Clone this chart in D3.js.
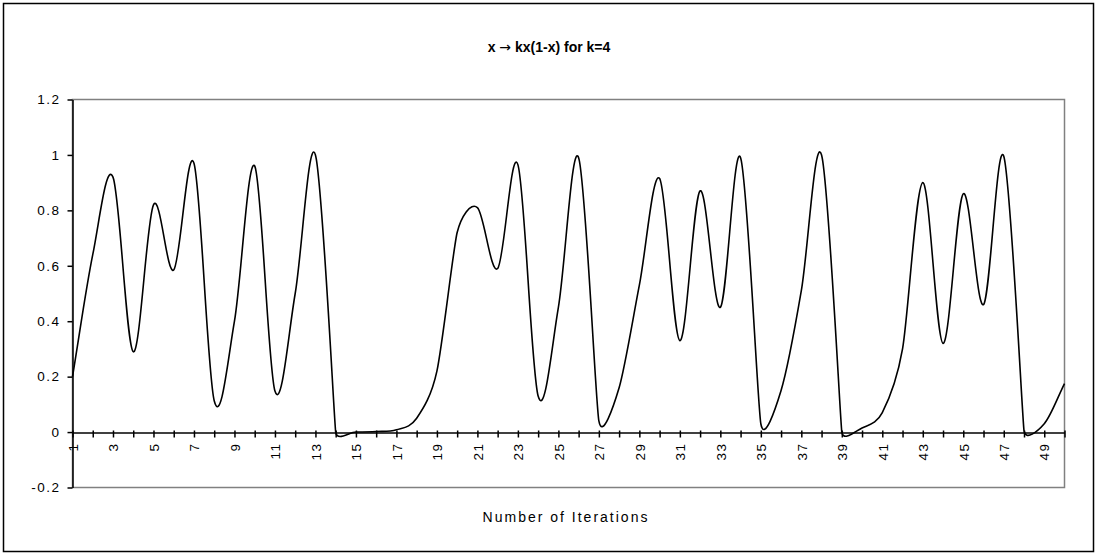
<!DOCTYPE html>
<html>
<head>
<meta charset="utf-8">
<script src="https://cdn.jsdelivr.net/npm/d3@7/dist/d3.min.js"></script>
<style>
  html, body { margin: 0; padding: 0; background: #fff; }
  svg { display: block; }
  text { font-family: "Liberation Sans", Arial, sans-serif; fill: #000; }
</style>
</head>
<body>
<svg id="chart" width="1097" height="555"></svg>
<script>
// ---- data ----
const titleParts = ["x ", "\u2192", " kx(1-x) for k=4"];
const xAxisTitle = "Number of Iterations";
const iterations = d3.range(1, 51);
const values = [
  0.20, 0.64, 0.92, 0.29, 0.82, 0.585, 0.97, 0.113, 0.40, 0.96,
  0.148, 0.50, 1.00, 0.00, 0.00, 0.002, 0.008, 0.05, 0.22, 0.72,
  0.81, 0.59, 0.965, 0.13, 0.45, 0.99, 0.04, 0.16, 0.53, 0.915,
  0.33, 0.87, 0.45, 0.99, 0.03, 0.15, 0.51, 1.00, 0.00, 0.015,
  0.07, 0.30, 0.90, 0.32, 0.86, 0.46, 0.995, 0.005, 0.03, 0.175
];
const yTicks = [-0.2, 0, 0.2, 0.4, 0.6, 0.8, 1, 1.2];
const xLabelEvery = 2;

// ---- layout ----
const svg = d3.select("#chart");
const W = 1097, H = 555;
const plot = { left: 72.5, right: 1064.5, top: 99.5, bottom: 487.5 };

svg.append("rect").attr("x", 0).attr("y", 0).attr("width", W).attr("height", H).attr("fill", "#fff");
svg.append("rect").attr("x", 3.5).attr("y", 3.5).attr("width", W - 7).attr("height", H - 7)
  .attr("fill", "none").attr("stroke", "#000").attr("stroke-width", 1.5);

const x = d3.scalePoint().domain(iterations).range([plot.left, plot.right]);
const y = d3.scaleLinear().domain([-0.2, 1.2]).range([plot.bottom, plot.top]);

// plot area border (grey)
svg.append("rect")
  .attr("x", plot.left).attr("y", plot.top)
  .attr("width", plot.right - plot.left).attr("height", plot.bottom - plot.top)
  .attr("fill", "#fff").attr("stroke", "#808080").attr("stroke-width", 1.5);

// title
const title = svg.append("text").attr("x", 549).attr("y", 52).attr("text-anchor", "middle")
  .attr("font-size", 14).attr("font-weight", "bold");
title.selectAll("tspan").data(titleParts).join("tspan")
  .style("font-family", (d, i) => i === 1 ? "'DejaVu Sans', sans-serif" : "'Liberation Sans', Arial, sans-serif")
  .attr("font-weight", (d, i) => i === 1 ? "normal" : "bold")
  .text(d => d);

// y axis
const yAxis = d3.axisLeft(y).tickValues(yTicks).tickSize(5).tickSizeOuter(0).tickPadding(7)
  .tickFormat(d => String(+d.toFixed(1)));
const gy = svg.append("g").attr("transform", `translate(${plot.left},0)`).call(yAxis);
gy.select(".domain").attr("stroke", "#000").attr("stroke-width", 1.5);
gy.selectAll(".tick line").attr("stroke", "#000").attr("stroke-width", 1.5);
gy.selectAll(".tick text").attr("font-size", 13.5).attr("letter-spacing", "1.5px")
  .style("font-family", "'Liberation Sans', Arial, sans-serif");

// x axis at y = 0
const xAxis = d3.axisBottom(x).tickSize(5).tickSizeOuter(0)
  .tickFormat(d => ((d - 1) % xLabelEvery === 0 ? String(d) : ""));
const gx = svg.append("g").attr("transform", `translate(0,${Math.round(y(0)) + 0.5})`).call(xAxis);
gx.select(".domain").attr("stroke", "#000").attr("stroke-width", 1.5);
gx.selectAll(".tick line").attr("y1", -2).attr("y2", 5).attr("stroke", "#000").attr("stroke-width", 1.5);
gx.selectAll(".tick text")
  .attr("transform", "rotate(-90)")
  .attr("x", -10).attr("y", 0).attr("dy", "0.35em")
  .attr("text-anchor", "end")
  .attr("font-size", 13.5).attr("letter-spacing", "1.5px")
  .style("font-family", "'Liberation Sans', Arial, sans-serif");

// x axis title
svg.append("text").attr("x", 566).attr("y", 522).attr("text-anchor", "middle")
  .attr("font-size", 14).attr("letter-spacing", "2px").text(xAxisTitle);

// Excel-like smoothed curve (Bezier with clamped Catmull-Rom tangents)
function ExcelSmooth(context) { this._context = context; }
ExcelSmooth.prototype = {
  areaStart() { this._line = 0; },
  areaEnd() { this._line = NaN; },
  lineStart() { this._pts = []; },
  point(px, py) { this._pts.push([+px, +py]); },
  lineEnd() {
    const p = this._pts, n = p.length, ctx = this._context;
    if (!n) return;
    const dist = (a, b) => Math.hypot(b[0] - a[0], b[1] - a[1]);
    const ctrl = p.map((c, i) => {
      const a = p[Math.max(i - 1, 0)], b = p[Math.min(i + 1, n - 1)];
      const tx = b[0] - a[0], ty = b[1] - a[1];
      const L = Math.hypot(tx, ty);
      if (L === 0) return [0, 0];
      let s;
      if (i === 0 || i === n - 1) s = L / 3;
      else s = Math.min(L / 6, dist(a, c) / 2, dist(c, b) / 2);
      return [tx / L * s, ty / L * s];
    });
    ctx.moveTo(p[0][0], p[0][1]);
    for (let i = 0; i < n - 1; i++) {
      const c1 = [p[i][0] + ctrl[i][0], p[i][1] + ctrl[i][1]];
      const c2 = [p[i + 1][0] - ctrl[i + 1][0], p[i + 1][1] - ctrl[i + 1][1]];
      ctx.bezierCurveTo(c1[0], c1[1], c2[0], c2[1], p[i + 1][0], p[i + 1][1]);
    }
  }
};
const curveExcel = ctx => new ExcelSmooth(ctx);

const line = d3.line()
  .x((d, i) => x(iterations[i]))
  .y(d => y(d))
  .curve(curveExcel);

svg.append("path").datum(values)
  .attr("d", line)
  .attr("fill", "none").attr("stroke", "#000").attr("stroke-width", 1.6);
</script>
</body>
</html>
